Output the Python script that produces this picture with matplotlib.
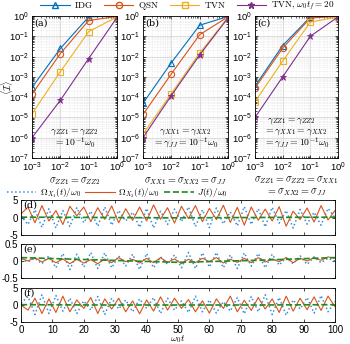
import numpy as np
import matplotlib
matplotlib.use('Agg')
import matplotlib.pyplot as plt
from matplotlib.font_manager import FontProperties
from matplotlib.lines import Line2D
from matplotlib.ticker import LogLocator, NullFormatter, FixedLocator

# ---- data ----
sigma = [1e-3, 1e-2, 1e-1, 1e0]

# panel (a)
a_idg = [3e-4, 2.5e-2, 0.9, 1.0]
a_qsn = [1.4e-4, 1.4e-2, 0.6, 0.95]
a_tvn = [1.5e-5, 1.8e-3, 0.17, 0.9]
a_tvn20 = [1e-6, 7e-5, 8e-3, 0.85]
# panel (b)
b_idg = [5e-5, 5e-3, 0.35, 0.95]
b_qsn = [1.4e-5, 1.4e-3, 0.12, 0.9]
b_tvn = [1.5e-6, 1.5e-4, 1.5e-2, 0.85]
b_tvn20 = [1e-6, 1.2e-4, 1.2e-2, 0.8]
# panel (c)
c_idg = [3.5e-4, 3.5e-2, 0.9, 1.0]
c_qsn = [2.8e-4, 2.6e-2, 0.8, 0.95]
c_tvn = [6e-5, 6e-3, 0.5, 0.9]
c_tvn20 = [1e-5, 1e-3, 0.1, 0.9]

# time traces (approximate extrema, read by eye)
t_ext = np.linspace(0, 100, 46)
d_blue = [0.5, -2.0, 2.2, -2.8, 2.5, -3.0, 2.0, -2.6, 2.8, -1.5, 1.8, -2.5, 3.0, -2.2, 2.0, -1.0,
          1.5, -2.8, 2.6, -3.0, 1.8, -2.0, 2.4, -1.2, 3.0, -2.6, 2.2, -2.9, 2.7, -1.8, 1.6, -2.4,
          3.1, -2.0, 2.5, -2.7, 2.9, -1.6, 2.0, -3.0, 2.3, -1.9, 1.5, -2.2, 2.6, 0.0]
d_orange = [1.0, 3.0, -1.5, 3.4, -1.0, 2.0, -2.0, 3.2, 0.5, 3.0, -1.2, 2.8, -0.5, 3.3, -1.5, 2.5,
            -0.8, 3.0, -1.0, 3.6, -0.5, 2.8, -1.6, 3.2, -0.3, 3.4, -1.2, 2.6, -0.6, 3.5, -1.4, 2.9,
            -2.2, 3.0, -0.8, 2.4, -1.0, 3.1, -2.5, 1.8, -0.6, 2.7, -1.3, 3.4, -0.7, 2.0]
e_blue = [0.05, -0.02, 0.08, -0.08, 0.15, -0.2, 0.22, -0.25, 0.2, -0.18, 0.25, -0.22, 0.24, -0.2,
          0.15, -0.15, 0.2, -0.25, 0.22, -0.2, 0.12, -0.1, 0.18, -0.2, 0.25, -0.22, 0.24, -0.18,
          0.25, -0.2, 0.18, -0.22, 0.24, -0.15, 0.22, -0.2, 0.2, -0.12, 0.1, -0.08, 0.15, -0.1,
          0.12, -0.05, 0.08, 0.0]
e_orange = [0.08, 0.0, 0.1, -0.03, 0.08, -0.05, 0.06, -0.08, 0.05, -0.06, 0.04, -0.08, 0.06, -0.05,
            0.1, -0.02, 0.05, -0.06, 0.08, -0.05, 0.1, -0.04, 0.06, -0.08, 0.05, -0.05, 0.08, -0.02,
            0.1, -0.06, 0.05, -0.04, 0.08, -0.05, 0.1, -0.03, 0.06, -0.02, 0.1, -0.05, 0.08, 0.0,
            0.1, 0.02, 0.12, 0.08]
f_blue = [0.5, 2.5, -2.8, 3.0, -2.5, 2.8, -1.8, 2.0, -2.5, 1.2, -1.5, 2.5, -2.8, 2.0, -1.2, 1.5,
          -2.0, 1.8, -1.0, 2.2, -2.5, 2.0, -1.5, 1.2, -2.2, 2.6, -2.0, 1.5, -2.4, 1.0, -1.8, 2.2,
          -2.6, 2.5, -2.0, 3.0, -2.8, 2.2, -3.0, 1.5, -1.2, 2.2, -2.4, 2.8, -2.0, 1.0]
f_orange = [0.0, -1.5, 2.0, -2.5, 1.8, -2.2, 2.6, -2.0, 1.5, -1.0, 2.2, -2.5, 1.8, -1.2, 2.0, -2.0,
            1.2, -2.6, 1.5, -1.8, 2.4, -1.5, 2.0, -1.0, 1.6, -2.0, 1.2, -2.4, 1.8, -1.0, 2.6, -2.0,
            1.4, -1.6, 2.2, -1.2, 1.8, -2.2, 2.6, -1.8, 2.0, -1.4, 2.4, -1.6, 2.6, -0.5]
t_green = [0, 25, 50, 75, 100]
d_green = [0.1, 0.0, -0.1, 0.0, 0.1]
e_green = [0.1, 0.03, -0.04, 0.02, 0.1]
f_green = [0.1, 0.0, 0.0, 0.0, 0.1]

# ---- style ----
plt.rcParams['font.family'] = ['Liberation Sans', 'DejaVu Sans']
plt.rcParams['axes.unicode_minus'] = False
serif = FontProperties(family='DejaVu Serif', size=7.0, math_fontfamily='cm')
serif_l = FontProperties(family='DejaVu Serif', size=6.6, math_fontfamily='cm')
serif_t = FontProperties(family='DejaVu Serif', size=7, math_fontfamily='cm')
serif_x = FontProperties(family='DejaVu Serif', size=7.3, math_fontfamily='cm')

c_blue = '#0072BD'
c_orange = '#D95319'
c_yellow = '#EDB120'
c_purple = '#7E2F8E'
c_lblue = '#3A8EDB'
c_green = '#1E8C1E'

W, H = 350, 344
fig = plt.figure(figsize=(W / 100, H / 100), dpi=100)


def px_axes(x0, y0, x1, y1):
    return fig.add_axes([x0 / W, 1 - y1 / H, (x1 - x0) / W, (y1 - y0) / H])


top_boxes = [(32, 16, 117, 158), (143, 16, 228, 158), (255, 16, 338, 158)]
top_data = [(a_idg, a_qsn, a_tvn, a_tvn20), (b_idg, b_qsn, b_tvn, b_tvn20),
            (c_idg, c_qsn, c_tvn, c_tvn20)]
panel_tags = ['(a)', '(b)', '(c)']

for box, (idg, qsn, tvn, tvn20), tag in zip(top_boxes, top_data, panel_tags):
    ax = px_axes(*box)
    ax.plot(sigma, idg, '-^', color=c_blue, mfc='none', ms=4.5, lw=0.8, mew=0.8)
    ax.plot(sigma, qsn, '-o', color=c_orange, mfc='none', ms=4.5, lw=0.8, mew=0.8)
    ax.plot(sigma, tvn, '-s', color=c_yellow, mfc='none', ms=4, lw=0.8, mew=0.8)
    ax.plot(sigma, tvn20, '-*', color=c_purple, mfc=c_purple, ms=5, lw=0.8, mew=0.6)
    ax.set_xscale('log')
    ax.set_yscale('log')
    ax.set_xlim(1e-3, 1e0)
    ax.set_ylim(1e-7, 1e0)
    ax.xaxis.set_major_locator(FixedLocator([1e-3, 1e-2, 1e-1, 1e0]))
    ax.yaxis.set_major_locator(FixedLocator([10.0 ** k for k in range(-7, 1)]))
    ax.xaxis.set_minor_locator(LogLocator(base=10, subs=np.arange(2, 10)))
    ax.yaxis.set_minor_locator(LogLocator(base=10, subs=np.arange(2, 10), numticks=20))
    ax.xaxis.set_minor_formatter(NullFormatter())
    ax.yaxis.set_minor_formatter(NullFormatter())
    ax.grid(True, which='major', color='#cfcfcf', lw=0.5)
    ax.grid(True, which='minor', color='#dcdcdc', lw=0.4, ls=':')
    ax.tick_params(which='both', direction='in', top=True, right=True, labelsize=6.8,
                   width=0.5, pad=2)
    ax.tick_params(which='major', length=2.5)
    ax.tick_params(which='minor', length=1.2)
    for s in ax.spines.values():
        s.set_linewidth(0.6)
    ax.text(0.03, 0.985, tag, transform=ax.transAxes, ha='left', va='top', fontproperties=serif_t)
    if tag == '(a)':
        ax.text(0.5, 0.18, r'$\gamma_{ZZ1}=\gamma_{ZZ2}$', transform=ax.transAxes, ha='center',
                va='center', fontproperties=serif)
        ax.text(0.5, 0.1, r'$=10^{-1}\omega_0$', transform=ax.transAxes, ha='center',
                va='center', fontproperties=serif)
        ax.text(0.5, -0.16, r'$\sigma_{ZZ1}=\sigma_{ZZ2}$', transform=ax.transAxes,
                ha='center', va='center', fontproperties=serif_x)
        ax.text(-0.29, 0.5, r'$\langle\mathcal{I}\rangle$', transform=ax.transAxes, rotation=90,
                ha='center', va='center', fontproperties=serif_t)
    elif tag == '(b)':
        ax.text(0.5, 0.18, r'$\gamma_{XX1}=\gamma_{XX2}$', transform=ax.transAxes, ha='center',
                va='center', fontproperties=serif)
        ax.text(0.5, 0.1, r'$=\gamma_{JJ}=10^{-1}\omega_0$', transform=ax.transAxes,
                ha='center', va='center', fontproperties=serif)
        ax.text(0.5, -0.16, r'$\sigma_{XX1}=\sigma_{XX2}=\sigma_{JJ}$', transform=ax.transAxes,
                ha='center', va='center', fontproperties=serif_x)
    else:
        ax.text(0.14, 0.26, r'$\gamma_{ZZ1}=\gamma_{ZZ2}$', transform=ax.transAxes, ha='left',
                va='center', fontproperties=serif)
        ax.text(0.11, 0.18, r'$=\gamma_{XX1}=\gamma_{XX2}$', transform=ax.transAxes, ha='left',
                va='center', fontproperties=serif)
        ax.text(0.11, 0.1, r'$=\gamma_{JJ}=10^{-1}\omega_0$', transform=ax.transAxes,
                ha='left', va='center', fontproperties=serif)
        ax.text(0.5, -0.155, r'$\sigma_{ZZ1}=\sigma_{ZZ2}=\sigma_{XX1}$', transform=ax.transAxes,
                ha='center', va='center', fontproperties=serif_x)
        ax.text(0.5, -0.24, r'$=\sigma_{XX2}=\sigma_{JJ}$', transform=ax.transAxes,
                ha='center', va='center', fontproperties=serif_x)

top_handles = [
    Line2D([], [], color=c_blue, marker='^', mfc='none', ms=4.5, lw=0.8),
    Line2D([], [], color=c_orange, marker='o', mfc='none', ms=4.5, lw=0.8),
    Line2D([], [], color=c_yellow, marker='s', mfc='none', ms=4, lw=0.8),
    Line2D([], [], color=c_purple, marker='*', mfc=c_purple, ms=5, lw=0.8),
]
top_labels = [r'$\mathrm{IDG}$', r'$\mathrm{QSN}$', r'$\mathrm{TVN}$',
              r'$\mathrm{TVN},\,\omega_0 t_f=20$']
fig.legend(top_handles, top_labels, loc='center', bbox_to_anchor=(0.535, 1 - 6 / H), ncol=4,
           frameon=False, prop=serif_l, handlelength=3.2, columnspacing=1.2, handletextpad=0.5,
           borderpad=0)

# ---- bottom panels ----
bot_boxes = [(21, 200, 335, 235), (21, 244, 335, 278), (21, 288, 335, 322)]
bot_data = [(d_blue, d_orange, d_green, 5, '(d)'), (e_blue, e_orange, e_green, 0.5, '(e)'),
            (f_blue, f_orange, f_green, 5, '(f)')]
for i, (box, (bl, orn, gr, lim, tag)) in enumerate(zip(bot_boxes, bot_data)):
    ax = px_axes(*box)
    ax.plot(t_ext, bl, ':', color=c_lblue, lw=1.1)
    ax.plot(t_ext, orn, '-', color=c_orange, lw=0.8)
    ax.plot(t_green, gr, '--', color=c_green, lw=1.2)
    ax.set_xlim(0, 100)
    ax.set_ylim(-lim, lim)
    ax.set_yticks([-lim, 0, lim])
    if lim == 5:
        ax.set_yticklabels(['-5', '0', '5'])
    else:
        ax.set_yticklabels(['-0.5', '0', '0.5'])
    ax.set_xticks(np.arange(0, 101, 10))
    ax.tick_params(direction='in', top=True, right=True, labelsize=7, width=0.5, length=2.5,
                   pad=2)
    if i < 2:
        ax.set_xticklabels([])
    for s in ax.spines.values():
        s.set_linewidth(0.6)
    ax.text(0.008, 0.98, tag, transform=ax.transAxes, ha='left', va='top', fontproperties=serif_t)
    if i == 2:
        ax.text(0.5, -0.5, r'$\omega_0 t$', transform=ax.transAxes, ha='center', va='center',
                fontproperties=serif_t)

bot_handles = [
    Line2D([], [], color=c_lblue, ls=':', lw=1.1),
    Line2D([], [], color=c_orange, ls='-', lw=0.8),
    Line2D([], [], color=c_green, ls='--', lw=1.2),
]
bot_labels = [r'$\Omega_{X_1}(t)/\omega_0$', r'$\Omega_{X_2}(t)/\omega_0$', r'$J(t)/\omega_0$']
fig.legend(bot_handles, bot_labels, loc='center', bbox_to_anchor=(0.335, 1 - 193 / H), ncol=3,
           frameon=False, prop=serif_l, handlelength=3.2, columnspacing=0.5, handletextpad=0.4,
           borderpad=0)

fig.savefig('out.png', dpi=100)
